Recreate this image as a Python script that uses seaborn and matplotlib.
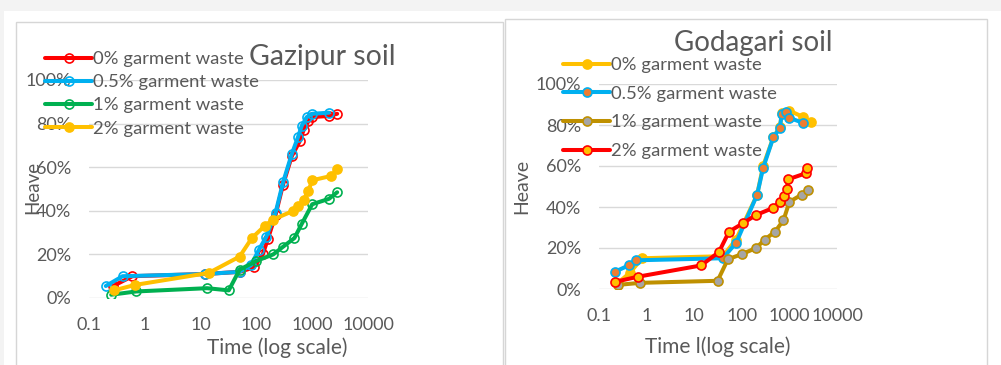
import numpy as np
import pandas as pd
import matplotlib
matplotlib.use("Agg")
import matplotlib.pyplot as plt
from matplotlib.patches import Rectangle
from matplotlib.ticker import PercentFormatter, NullLocator
import seaborn as sns

sns.set_theme(style="white")
plt.rcParams["font.family"] = ["Lato", "DejaVu Sans"]

TXT = "#595959"
GRID = "#d9d9d9"

# ---- Gazipur soil: swell (heave) vs elapsed time ----
gz_t_0 = [0.27, 0.6, 12, 50, 90, 130, 160, 220, 300, 430, 600, 700, 850, 1000, 2000, 2800]
gz_h_0 = [0.055, 0.10, 0.11, 0.12, 0.14, 0.20, 0.27, 0.38, 0.52, 0.65, 0.72, 0.77, 0.81, 0.83, 0.835, 0.845]
gz_t_05 = [0.2, 0.4, 12, 50, 80, 110, 150, 220, 300, 430, 560, 650, 800, 1000, 2000]
gz_h_05 = [0.055, 0.10, 0.11, 0.12, 0.15, 0.22, 0.28, 0.39, 0.53, 0.66, 0.74, 0.79, 0.83, 0.845, 0.85]
gz_t_1 = [0.25, 0.7, 13, 32, 50, 100, 200, 300, 480, 650, 1000, 2000, 2800]
gz_h_1 = [0.015, 0.03, 0.045, 0.035, 0.13, 0.17, 0.20, 0.235, 0.275, 0.34, 0.43, 0.455, 0.485]
gz_t_2 = [0.28, 0.67, 14, 50, 83, 140, 200, 460, 560, 700, 850, 1000, 2200, 2800]
gz_h_2 = [0.035, 0.06, 0.115, 0.19, 0.275, 0.33, 0.36, 0.40, 0.42, 0.45, 0.49, 0.54, 0.56, 0.59]

# ---- Godagari soil ----
gd_t_0 = [0.25, 0.45, 0.8, 40, 75, 210, 280, 460, 630, 700, 1000, 1900, 2800]
gd_h_0 = [0.03, 0.08, 0.15, 0.16, 0.24, 0.46, 0.60, 0.74, 0.79, 0.86, 0.87, 0.84, 0.815]
gd_t_05 = [0.22, 0.42, 0.6, 40, 76, 210, 280, 460, 630, 690, 850, 1000, 1950]
gd_h_05 = [0.085, 0.115, 0.14, 0.15, 0.225, 0.46, 0.59, 0.74, 0.785, 0.855, 0.865, 0.835, 0.81]
gd_t_1 = [0.25, 0.73, 31, 51, 100, 200, 300, 500, 750, 1000, 1800, 2500]
gd_h_1 = [0.02, 0.03, 0.04, 0.145, 0.17, 0.20, 0.24, 0.28, 0.335, 0.425, 0.46, 0.485]
gd_t_2 = [0.22, 0.66, 14, 33, 54, 105, 195, 450, 630, 780, 890, 940, 2240, 2350]
gd_h_2 = [0.035, 0.06, 0.115, 0.18, 0.28, 0.32, 0.36, 0.395, 0.425, 0.455, 0.49, 0.535, 0.565, 0.59]

labels = ["0% garment waste", "0.5% garment waste", "1% garment waste", "2% garment waste"]
x_ticks = [0.1, 1, 10, 100, 1000, 10000]
x_tick_labels = ["0.1", "1", "10", "100", "1000", "10000"]
y_ticks = [0, 0.2, 0.4, 0.6, 0.8, 1.0]

W, H = 1001, 365
fig = plt.figure(figsize=(W / 100, H / 100), dpi=100, facecolor="#f3f3f3")


def px(x0, y0, w, h):
    """Pixel box (top-left origin) -> figure fraction rect."""
    return [x0 / W, 1 - (y0 + h) / H, w / W, h / H]


# white page and the two chart frames
fig.patches.append(Rectangle((4 / W, 0), 1, 1 - 11 / H, transform=fig.transFigure,
                             facecolor="white", edgecolor="none", zorder=-3))
fig.patches.append(Rectangle((16 / W, -0.1), 487 / W, 1 - 22 / H + 0.1, transform=fig.transFigure,
                             facecolor="white", edgecolor="#d6d6d6", lw=1.0, zorder=-2))
fig.patches.append(Rectangle((505 / W, -0.1), 482 / W, 1 - 19 / H + 0.1, transform=fig.transFigure,
                             facecolor="white", edgecolor="#d6d6d6", lw=1.0, zorder=-2))

ax1 = fig.add_axes(px(89, 80, 279, 218))
ax2 = fig.add_axes(px(599, 84, 238, 205))


def series(ax, t, h, color, mfc, mec, label, lw=2.9, ms=6.5, mew=1.2):
    df = pd.DataFrame({"t": t, "h": h})
    sns.lineplot(data=df, x="t", y="h", ax=ax, sort=False, estimator=None,
                 color=color, lw=lw, marker="o", markersize=ms,
                 markerfacecolor=mfc, markeredgecolor=mec, markeredgewidth=mew,
                 label=label)


# Gazipur: open circles except the 2% series
series(ax1, gz_t_0, gz_h_0, "#ff0000", "none", "#ff0000", labels[0])
series(ax1, gz_t_05, gz_h_05, "#00b0f0", "none", "#00b0f0", labels[1])
series(ax1, gz_t_1, gz_h_1, "#00b050", "none", "#00b050", labels[2])
series(ax1, gz_t_2, gz_h_2, "#ffc000", "#ffc000", "#ffc000", labels[3])

# Godagari: coloured dots on the lines
series(ax2, gd_t_0, gd_h_0, "#ffc000", "#ffc000", "#ffc000", labels[0])
series(ax2, gd_t_05, gd_h_05, "#00b0f0", "#ed7d31", "#00b0f0", labels[1])
series(ax2, gd_t_1, gd_h_1, "#bf9000", "#a5a5a5", "#bf9000", labels[2])
series(ax2, gd_t_2, gd_h_2, "#ff0000", "#ffc000", "#ff0000", labels[3])

for ax in (ax1, ax2):
    ax.set_xscale("log")
    ax.set_xlim(0.1, 10000)
    ax.set_ylim(0, 1.0)
    ax.set_xticks(x_ticks)
    ax.set_xticklabels(x_tick_labels)
    ax.xaxis.set_minor_locator(NullLocator())
    ax.set_yticks(y_ticks)
    ax.yaxis.set_major_formatter(PercentFormatter(1.0, decimals=0))
    ax.set_facecolor("none")
    for s in ax.spines.values():
        s.set_visible(False)
    ax.grid(axis="y", color=GRID, lw=1.0)
    ax.grid(axis="x", visible=False)
    ax.set_axisbelow(True)
    ax.tick_params(length=0, labelsize=13, labelcolor=TXT)
    ax.tick_params(axis="x", pad=14)
    ax.tick_params(axis="y", pad=13)

ax1.set_xlabel("Time (log scale)", fontsize=15, color=TXT)
ax1.set_ylabel("Heave", fontsize=13.5, color=TXT)
ax1.xaxis.set_label_coords(0.674, -0.229)
ax1.xaxis.label.set_va("center")
ax1.yaxis.set_label_coords(-0.20, 0.505)
ax1.yaxis.label.set_va("center")
ax1.set_title("Gazipur soil", fontsize=20.5, color=TXT, x=0.835, y=1.105, va="center", pad=0)

ax2.set_xlabel("Time l(log scale)", fontsize=15, color=TXT)
ax2.set_ylabel("Heave", fontsize=14, color=TXT)
ax2.xaxis.set_label_coords(0.5, -0.283)
ax2.xaxis.label.set_va("center")
ax2.yaxis.set_label_coords(-0.3235, 0.498)
ax2.yaxis.label.set_va("center")
ax2.set_title("Godagari soil", fontsize=20, color=TXT, x=0.647, y=1.2, va="center", pad=0)

leg1 = ax1.legend(loc="upper left", bbox_to_anchor=(45 / W, 1 - 51 / H), bbox_transform=fig.transFigure,
                  frameon=False, fontsize=13.3, handlelength=2.55, handletextpad=0.05,
                  labelspacing=0.39, borderpad=0, borderaxespad=0)
leg2 = ax2.legend(loc="upper left", bbox_to_anchor=(563 / W, 1 - 57 / H), bbox_transform=fig.transFigure,
                  frameon=False, fontsize=13.3, handlelength=2.55, handletextpad=0.05,
                  labelspacing=0.69, borderpad=0, borderaxespad=0)
for leg in (leg1, leg2):
    for t in leg.get_texts():
        t.set_color(TXT)

fig.savefig("out.png", dpi=100, facecolor=fig.get_facecolor())
